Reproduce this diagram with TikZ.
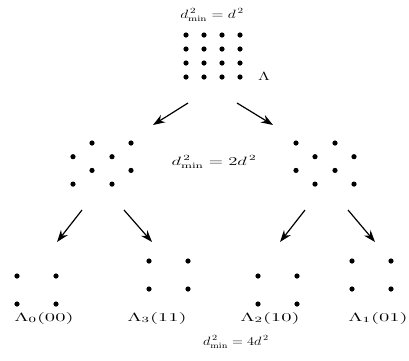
\documentclass[tikz,border=0pt]{standalone}
\usepackage{amsmath,amssymb}
\usepackage{graphicx}
\usepackage{tikz}
\usetikzlibrary{arrows.meta,positioning}

\newcommand{\widetext}[2][1.45]{\scalebox{#1}[1]{#2}}

\begin{document}
\begin{tikzpicture}[
    x=1pt, y=-1pt,
    pt/.style={circle, fill=black, inner sep=0pt, minimum size=5.2pt},
    arr/.style={-{Stealth[length=12pt, width=8.5pt]}, line width=1.2pt},
    lbl/.style={font=\large, inner sep=1pt}
]
\useasboundingbox (0,0) rectangle (409,360);

% full lattice
\foreach \i in {0,...,3}
  \foreach \j in {0,...,3}
    \node[pt] (top-\i\j) at (186+18*\i, 35+14*\j) {};
\node[lbl] (dtop) at (212,15) {\widetext[1.3]{$d^{\,2}_{\min}=d^{\,2}$}};
\node[lbl] (lam) at (264,76) {\widetext{$\Lambda$}};

% first split
\foreach \j in {0,...,3}{
  \pgfmathsetmacro{\offl}{mod(\j+1,2)*19}
  \pgfmathsetmacro{\offr}{mod(\j,2)*19}
  \foreach \i in {0,1}{
    \node[pt] (left-\i\j) at (73+\offl+39*\i, 143+13.7*\j) {};
    \node[pt] (right-\i\j) at (296+\offr+39*\i, 143+13.7*\j) {};
  }
}
\node[lbl] (dmid) at (214,162) {\widetext[1.55]{$d^{\,2}_{\min}=2d^{\,2}$}};

% second split
\foreach \name/\bx/\by in {L0/17/276, L3/149/261, L2/258/276, L1/352/261}
  \foreach \i in {0,1}
    \foreach \j in {0,1}
      \node[pt] (\name-\i\j) at (\bx+39*\i, \by+28*\j) {};

\node[lbl] (lab0) at (44,318) {\widetext[1.75]{$\Lambda_0(00)$}};
\node[lbl] (lab3) at (157,318) {\widetext[1.75]{$\Lambda_3(11)$}};
\node[lbl] (lab2) at (270,318) {\widetext[1.75]{$\Lambda_2(10)$}};
\node[lbl] (lab1) at (378,318) {\widetext[1.75]{$\Lambda_1(01)$}};
\node[lbl] (dbot) at (236,342) {\widetext[1.2]{$d^{\,2}_{\min}=4d^{\,2}$}};

% arrows
\coordinate (a1s) at (188,103); \coordinate (a1e) at (153,125);
\coordinate (a2s) at (237,103); \coordinate (a2e) at (273,125);
\coordinate (b1s) at (82,210);  \coordinate (b1e) at (57,242);
\coordinate (b2s) at (124,210); \coordinate (b2e) at (152,242);
\coordinate (b3s) at (305,210); \coordinate (b3e) at (280,242);
\coordinate (b4s) at (348,210); \coordinate (b4e) at (375,242);

\draw[arr] (a1s) -- (a1e);
\draw[arr] (a2s) -- (a2e);
\draw[arr] (b1s) -- (b1e);
\draw[arr] (b2s) -- (b2e);
\draw[arr] (b3s) -- (b3e);
\draw[arr] (b4s) -- (b4e);
\end{tikzpicture}
\end{document}
